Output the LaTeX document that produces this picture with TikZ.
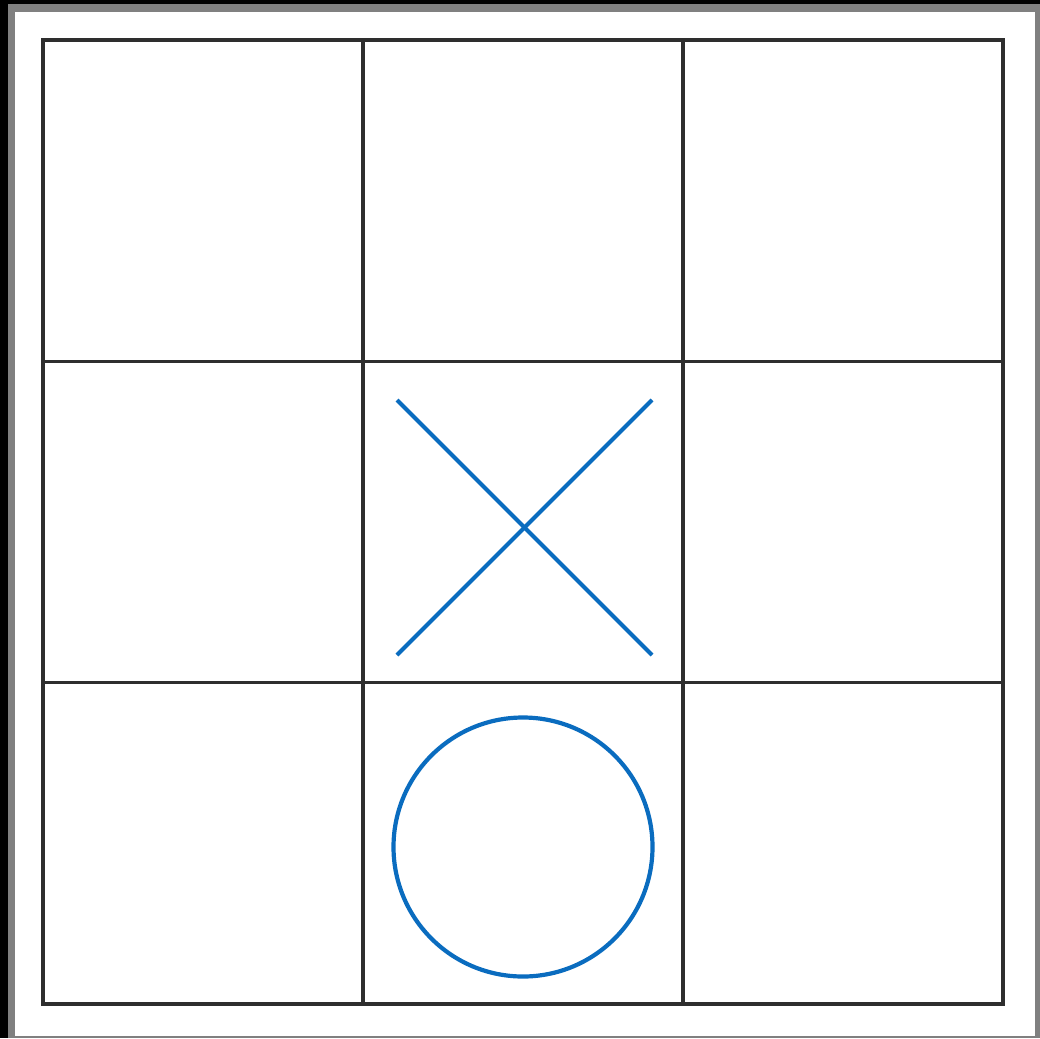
\documentclass[tikz,border=0pt]{standalone}
\begin{document}
\begin{tikzpicture}[x=1pt,y=-1pt,
  cell/.style={draw=gridc, line width=3.6pt, minimum width=320pt, minimum height=321.3pt, inner sep=0pt, outer sep=0pt},
  glyph/.style={draw=markblue, line width=4.2pt}]
\definecolor{gridc}{HTML}{2E2E2E}
\definecolor{markblue}{HTML}{0A6CBF}
\definecolor{framegray}{HTML}{808080}
\useasboundingbox (0,0) rectangle (1040,1038);
\fill[black] (0,0) rectangle (1040,1038);
\fill[framegray] (8,4) rectangle (1040,1038);
\fill[white] (15,12) rectangle (1035,1036);
% cells
\foreach \r/\y in {1/200.7,2/522,3/843.3}{
  \foreach \c/\x in {1/203,2/523,3/843}{
    \node[cell] (c\r\c) at (\x,\y) {};
  }
}
% X in center cell
\draw[glyph] ([xshift=-126pt,yshift=122pt]c22.center) -- ([xshift=129pt,yshift=-133pt]c22.center);
\draw[glyph] ([xshift=-126pt,yshift=-133pt]c22.center) -- ([xshift=129pt,yshift=122pt]c22.center);
% O in bottom middle cell
\draw[glyph] ([yshift=-3.7pt]c32.center) circle (129.5pt);
\end{tikzpicture}
\end{document}
